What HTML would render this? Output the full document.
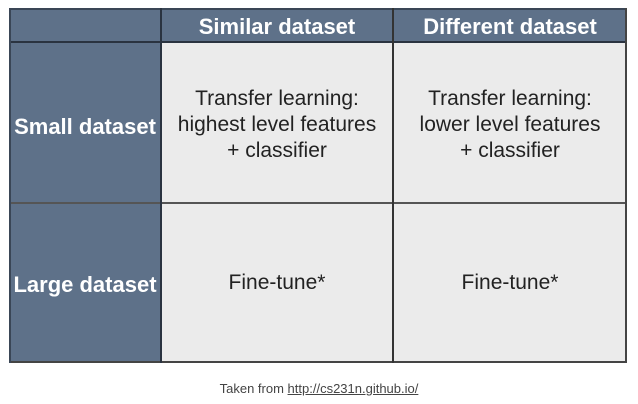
<!DOCTYPE html>
<html><head><style>
body{margin:0;width:638px;height:404px;background:#fff;font-family:"Liberation Sans",sans-serif;position:relative;overflow:hidden}
.b{position:absolute;box-sizing:border-box}
.h{background:#5e7189;color:#fff;font-weight:bold;display:flex;align-items:center;justify-content:center;text-align:center}
.c{background:#ebebeb;color:#222;display:flex;align-items:center;justify-content:center;text-align:center;font-size:21px;line-height:26px}
.vl{position:absolute;width:2px;background:#2a3340}
.hl{position:absolute;height:2px;background:#2a3340}
</style></head><body>
<div class="b h" style="left:9px;top:9px;width:152px;height:33px"></div>
<div class="b h" style="left:161px;top:9px;width:232px;height:33px;font-size:22px;padding-top:2px">Similar dataset</div>
<div class="b h" style="left:393px;top:9px;width:234px;height:33px;font-size:22px;padding-top:2px">Different dataset</div>
<div class="b h" style="left:9px;top:42px;width:152px;height:161px;font-size:22px;padding-top:8px">Small dataset</div>
<div class="b h" style="left:9px;top:203px;width:152px;height:160px;font-size:22px;padding-top:4px">Large dataset</div>
<div class="b c" style="left:161px;top:42px;width:232px;height:161px;padding-top:4px">Transfer learning:<br>highest level features<br>+ classifier</div>
<div class="b c" style="left:393px;top:42px;width:234px;height:161px;padding-top:4px">Transfer learning:<br>lower level features<br>+ classifier</div>
<div class="b c" style="left:161px;top:203px;width:232px;height:160px">Fine-tune*</div>
<div class="b c" style="left:393px;top:203px;width:234px;height:160px">Fine-tune*</div>
<div class="hl" style="left:9px;top:8px;width:618px;background:#3a4656"></div>
<div class="hl" style="left:9px;top:41px;width:618px"></div>
<div class="hl" style="left:9px;top:202px;width:618px;background:#555"></div>
<div class="hl" style="left:9px;top:361px;width:618px;background:#444"></div>
<div class="vl" style="left:9px;top:8px;height:355px;background:#3a4656"></div>
<div class="vl" style="left:160px;top:8px;height:355px"></div>
<div class="vl" style="left:392px;top:8px;height:355px;background:#333"></div>
<div class="vl" style="left:625px;top:8px;height:355px;background:#444"></div>
<div class="b" style="left:0;top:381px;width:638px;text-align:center;font-size:13px;color:#444">Taken from <span style="text-decoration:underline">http://cs231n.github.io/</span></div>
</body></html>
